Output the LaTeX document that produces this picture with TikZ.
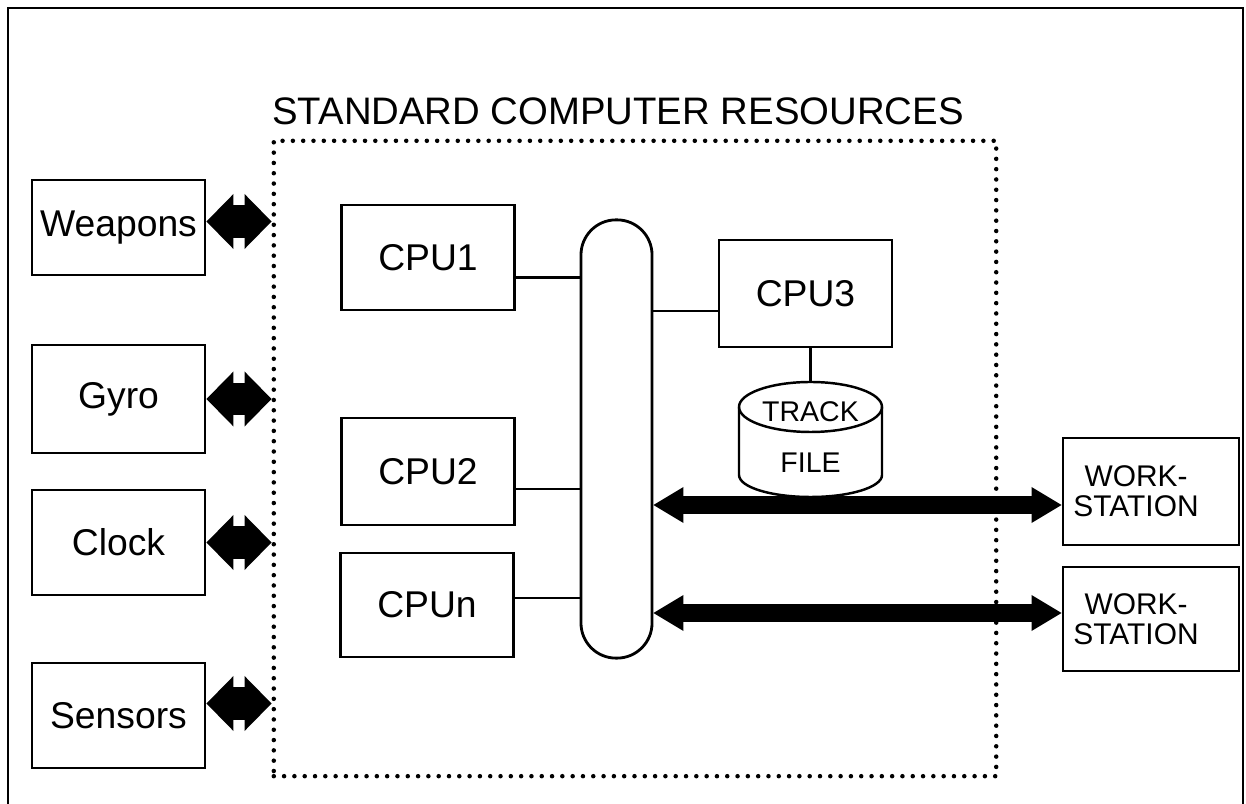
\documentclass[tikz,border=0pt]{standalone}
\usepackage{fontspec}
\setmainfont{Liberation Sans}
\usetikzlibrary{positioning,arrows.meta,calc}

\begin{document}
\begin{tikzpicture}[x=0.01cm, y=-0.01cm,
  box/.style={draw, line width=0.8pt, minimum width=1.73cm, minimum height=1.05cm, inner sep=1pt, font=\fontsize{10.6}{12}\selectfont},
  wsbox/.style={box, minimum width=1.76cm, align=center, font=\fontsize{8.5}{8.6}\selectfont},
  bus/.style={draw, line width=0.8pt, rounded corners=0.35cm, minimum width=0.71cm, minimum height=4.38cm},
  link/.style={line width=0.7pt},
  dotline/.style={line width=0.045cm, line cap=round, dash pattern=on 0pt off 0.103cm},
  fatarr/.style={line width=0.32cm, {Triangle[length=0.27cm, width=0.55cm, line width=0pt]}-{Triangle[length=0.27cm, width=0.55cm, line width=0pt]}},
  lanarr/.style={line width=0.17cm, {Triangle[length=0.3cm, width=0.36cm, line width=0pt]}-{Triangle[length=0.3cm, width=0.36cm, line width=0pt]}}
]
\useasboundingbox (0,0) rectangle (1246,804);
\draw[line width=0.8pt] (8,804) -- (8,8) -- (1243,8) -- (1243,804);

\node[draw, dotline, minimum width=7.22cm, minimum height=6.35cm] (scr) at (635,458.5) {};
\node[font=\fontsize{10.9}{13}\selectfont] (title) at (618,111) {STANDARD COMPUTER RESOURCES};

% outside devices
\node[box, minimum height=0.95cm] (weapons) at (118.5,227.5) {Weapons};
\node[box, minimum height=1.08cm] (gyro) at (118.5,399) {Gyro};
\node[box] (clock) at (118.5,542.5) {Clock};
\node[box] (sensors) at (118.5,715.5) {Sensors};

% processors and bus
\node[box] (cpu1) at (428,257.5) {CPU1};
\node[box, minimum height=1.07cm] (cpu2) at (428,471.5) {CPU2};
\node[box, minimum height=1.04cm] (cpun) at (427,605) {CPUn};
\node[bus] (bus) at (616.5,439) {};
\node[box, minimum height=1.07cm] (cpu3) at (805.5,293.5) {CPU3};

% track file
\node[align=center, inner sep=0pt, font=\fontsize{8.1}{14.5}\selectfont] (track) at (810.5,437.5) {TRACK\\FILE};
\coordinate (tftop) at (810.5,382);
\draw[link] (810.5,407) ellipse [x radius=71.5, y radius=25];
\draw[link] (739,407) -- (739,475) arc[start angle=180, end angle=0, x radius=71.5, y radius=22] -- (882,407);

\node[wsbox, minimum height=1.07cm] (ws1) at (1151,491.5) {WORK-\hspace*{0.3cm}\\STATION\hspace*{0.3cm}};
\node[wsbox, minimum height=1.04cm] (ws2) at (1151,619) {WORK-\hspace*{0.3cm}\\STATION\hspace*{0.3cm}};

\draw[link] ($(cpu1.east)+(0,20)$) coordinate (c1) -- (c1 -| bus.west);
\draw[link] ($(cpu2.east)+(0,17.5)$) coordinate (c2) -- (c2 -| bus.west);
\draw[link] ($(cpun.east)+(0,-7)$) coordinate (cn) -- (cn -| bus.west);
\draw[link] ($(cpu3.west)+(0,17.5)$) coordinate (c3) -- (c3 -| bus.east);
\draw[link] (tftop |- cpu3.south) -- (tftop);

\draw[fatarr] ($(weapons.east)+(0,-6)$) coordinate (a1) -- (a1 -| scr.west);
\draw[fatarr] (gyro.east) -- (gyro.east -| scr.west);
\draw[fatarr] (clock.east) -- (clock.east -| scr.west);
\draw[fatarr] ($(sensors.east)+(0,-12)$) coordinate (a4) -- (a4 -| scr.west);

\draw[lanarr] ($(ws1.west)+(0,13.5)$) coordinate (w1) -- (w1 -| bus.east);
\draw[lanarr] ($(ws2.west)+(0,-6)$) coordinate (w2) -- (w2 -| bus.east);
\end{tikzpicture}
\end{document}
